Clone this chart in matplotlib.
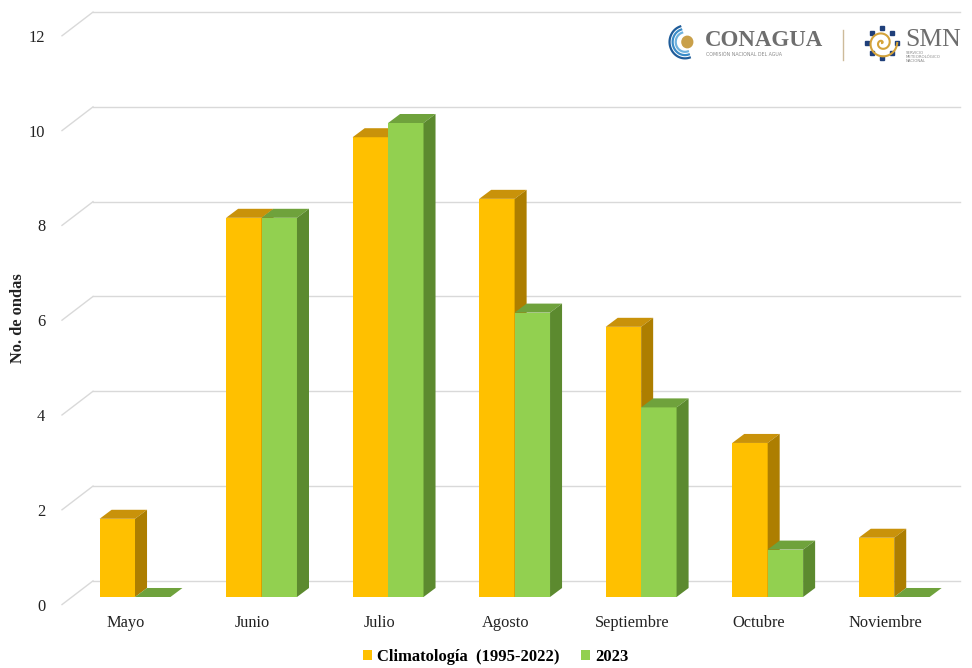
import matplotlib
matplotlib.use("Agg")
import matplotlib.pyplot as plt
from matplotlib.patches import Polygon, Patch
import numpy as np

months = ["Mayo", "Junio", "Julio", "Agosto", "Septiembre", "Octubre", "Noviembre"]
climatologia = [1.65, 8.0, 9.7, 8.4, 5.7, 3.25, 1.25]
ondas_2023 = [0, 8, 10, 6, 4, 1, 0]
yticks = [0, 2, 4, 6, 8, 10, 12]
legend_labels = ["Climatología  (1995-2022)", "2023"]

SERIF = ["Liberation Serif", "DejaVu Serif"]
plt.rcParams["font.family"] = SERIF

YEL_FRONT, YEL_TOP, YEL_SIDE = "#FFC000", "#C9920A", "#AD7E00"
GRN_FRONT, GRN_TOP, GRN_SIDE = "#92D050", "#6FA23C", "#5C8A2F"
GRID = "#D9D9D9"

fig = plt.figure(figsize=(9.72, 6.68), dpi=100)
ax = fig.add_axes([62 / 972, (668 - 607) / 668, 898 / 972, (607 - 10) / 668])
ax.set_xlim(-0.577, 6.52)
ax.set_ylim(-0.211, 12.384)

# 3D geometry (data units)
bw = 0.28          # bar width
bdx, bdy = 0.095, 0.19   # bar depth
wdx, wdy = 0.245, 0.50   # wall depth
front_off = -0.16        # front end of wall gridlines relative to value

x0 = ax.get_xlim()[0]
x1 = ax.get_xlim()[1]
for v in yticks:
    yf = v + front_off
    yb = yf + wdy
    ax.plot([x0, x0 + wdx], [yf, yb], color=GRID, lw=1.0, zorder=1, clip_on=False)
    ax.plot([x0 + wdx, x1], [yb, yb], color=GRID, lw=1.0, zorder=1, clip_on=False)


def bar3d(xl, h, front, top, side, z):
    ax.bar(xl, h, width=bw, align="edge", color=front, edgecolor="none", zorder=z)
    xr = xl + bw
    ax.add_patch(Polygon([(xl, h), (xr, h), (xr + bdx, h + bdy), (xl + bdx, h + bdy)],
                         closed=True, facecolor=top, edgecolor="none", zorder=z))
    if h > 0:
        ax.add_patch(Polygon([(xr, 0), (xr, h), (xr + bdx, h + bdy), (xr + bdx, bdy)],
                             closed=True, facecolor=side, edgecolor="none", zorder=z))


x = np.arange(len(months))
for i in range(len(months)):
    bar3d(x[i] - bw, climatologia[i], YEL_FRONT, YEL_TOP, YEL_SIDE, 3 + 2 * i)
    bar3d(x[i], ondas_2023[i], GRN_FRONT, GRN_TOP, GRN_SIDE, 4 + 2 * i)

ax.set_yticks([v + front_off for v in yticks], [str(v) for v in yticks])
ax.set_xticks(x - 0.07, months)
ax.tick_params(axis="both", length=0, labelsize=11.8, colors="#222222")
ax.tick_params(axis="y", pad=12)
ax.tick_params(axis="x", pad=6)
for s in ax.spines.values():
    s.set_visible(False)

fig.text(18 / 972, 1 - 318 / 668, "No. de ondas", rotation=90, ha="center", va="center",
         fontsize=11.8, fontweight="bold", color="#222222")

handles = [Patch(facecolor=YEL_FRONT), Patch(facecolor=GRN_FRONT)]
fig.legend(handles, legend_labels, loc="center", bbox_to_anchor=(496 / 972, 1 - 657 / 668),
           ncol=2, frameon=False, handlelength=0.55, handleheight=0.55, handletextpad=0.3,
           columnspacing=1.3, prop={"family": SERIF, "weight": "bold", "size": 11.9})

# Logos (text approximation)
fig.text(705 / 972, 1 - 40 / 668, "CONAGUA", fontsize=16.5, fontweight="bold", color="#6E6E6E",
         ha="left", va="center")
fig.text(706 / 972, 1 - 55 / 668, "COMISIÓN NACIONAL DEL AGUA", fontsize=3.4, color="#8A8A8A",
         ha="left", va="center", family=["DejaVu Sans"])
fig.add_artist(plt.Line2D([843 / 972, 843 / 972], [1 - 30 / 668, 1 - 60 / 668], color="#CDBB9A", lw=1))
fig.text(905 / 972, 1 - 40 / 668, "SMN", fontsize=18.5, color="#6E6E6E", ha="left", va="center")
fig.text(906 / 972, 1 - 57 / 668, "SERVICIO\nMETEOROLÓGICO\nNACIONAL", fontsize=2.8, color="#8A8A8A",
         ha="left", va="center", family=["DejaVu Sans"], linespacing=1.1)
# simple icons
ax_logo1 = fig.add_axes([668 / 972, 1 - 60 / 668, 34 / 972, 36 / 668])
ax_logo1.axis("off")
t = np.linspace(0.6 * np.pi, 1.6 * np.pi, 50)
for r, c in [(1.0, "#1F5C99"), (0.8, "#3A8CC8"), (0.6, "#6FB2DE")]:
    ax_logo1.plot(np.cos(t) * r, np.sin(t) * r, color=c, lw=1.6)
ax_logo1.add_patch(plt.Circle((0.15, 0.0), 0.35, color="#C9A04A"))
ax_logo1.set_xlim(-1.1, 1.1); ax_logo1.set_ylim(-1.1, 1.1)
ax_logo2 = fig.add_axes([862 / 972, 1 - 62 / 668, 40 / 972, 38 / 668])
ax_logo2.axis("off")
ang = np.linspace(0, 2 * np.pi, 9)[:-1]
for a in ang:
    ax_logo2.add_patch(plt.Rectangle((np.cos(a) * 0.85 - 0.12, np.sin(a) * 0.85 - 0.12), 0.24, 0.24,
                                     color="#1F3F7A"))
tt = np.linspace(0, 4 * np.pi, 120)
ax_logo2.plot(0.07 * tt * np.cos(tt), 0.07 * tt * np.sin(tt), color="#D4A33A", lw=1.5)
ax_logo2.set_xlim(-1.1, 1.1); ax_logo2.set_ylim(-1.1, 1.1)
ax_logo2.set_aspect("equal")

fig.savefig("out.png", dpi=100, facecolor="white")
